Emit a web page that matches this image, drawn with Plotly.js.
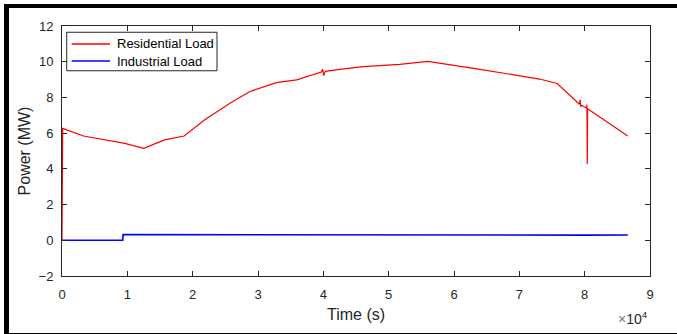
<!DOCTYPE html>
<html>
<head>
<meta charset="utf-8">
<script src="https://cdn.plot.ly/plotly-3.0.1.min.js"></script>
<style>
  html, body { margin: 0; padding: 0; background: #fff; }
  #wrap { position: relative; width: 677px; height: 334px; overflow: hidden; }
  #chart { position: absolute; left: 0; top: 0; width: 677px; height: 334px; }
  #frame { position: absolute; left: 4px; top: 4px; width: 668px; height: 325px;
           border-style: solid; border-color: #000; border-width: 4px 5px 5px 5px; pointer-events: none; }
</style>
</head>
<body>
<div id="wrap"><div id="chart"></div><div id="frame"></div></div>
<script>
// Residential load (time in seconds, power in MW)
const resTime = [0, 100, 3300, 9600, 12500, 15700, 18700, 21800, 25700, 28700, 32800, 35900,
  39700, 39900, 40050, 40300, 42500, 46100, 51700, 56000, 64000, 70500, 73100, 75800,
  79200, 79300, 79400, 79500, 80300, 80350, 80400, 80450, 86600];
const resPower = [0, 6.27, 5.84, 5.43, 5.15, 5.62, 5.84, 6.74, 7.67, 8.32, 8.83, 8.98,
  9.42, 9.58, 9.22, 9.46, 9.57, 9.72, 9.85, 10.02, 9.57, 9.2, 9.03, 8.78,
  7.62, 7.86, 7.48, 7.56, 7.4, 7.6, 4.27, 7.36, 5.84];

// Industrial load
const indTime = [0, 9300, 9350, 20000, 40000, 60000, 80000, 86600];
const indPower = [0, 0, 0.32, 0.31, 0.29, 0.28, 0.29, 0.30];

const seriesNames = ['Residential Load', 'Industrial Load'];
const seriesColors = ['#ff0000', '#0000ff'];
const xTickVals = [0, 10000, 20000, 30000, 40000, 50000, 60000, 70000, 80000, 90000];
const xTickText = ['0', '1', '2', '3', '4', '5', '6', '7', '8', '9'];
const yTickVals = [-2, 0, 2, 4, 6, 8, 10, 12];

const axisColor = '#262626';
const fontFam = 'Liberation Sans, Arial, sans-serif';

const traces = [
  { x: resTime, y: resPower, name: seriesNames[0], mode: 'lines',
    line: { color: seriesColors[0], width: 1.2 } },
  { x: indTime, y: indPower, name: seriesNames[1], mode: 'lines',
    line: { color: seriesColors[1], width: 1.6 } }
];

// legend box drawn in paper coordinates (MATLAB-style compact legend)
const legBox = { x0: 0.008, x1: 0.2636, y0: 0.821, y1: 0.975 };
const legRows = [0.928, 0.86];
const shapes = [
  { type: 'rect', xref: 'paper', yref: 'paper', x0: legBox.x0, x1: legBox.x1, y0: legBox.y0, y1: legBox.y1,
    line: { color: axisColor, width: 1 }, fillcolor: '#fff', layer: 'above' }
];
const annotations = [];
seriesNames.forEach((n, i) => {
  shapes.push({ type: 'line', xref: 'paper', yref: 'paper', x0: 0.0165, x1: 0.0816, y0: legRows[i], y1: legRows[i],
    line: { color: seriesColors[i], width: 1.6 }, layer: 'above' });
  annotations.push({ xref: 'paper', yref: 'paper', x: 0.0895, y: legRows[i], xanchor: 'left', yanchor: 'middle',
    text: n, showarrow: false, font: { family: fontFam, size: 13, color: '#000' } });
});
annotations.push({ xref: 'paper', yref: 'paper', x: 1.0, y: -0.125, xanchor: 'right', yanchor: 'top',
  text: '<span style="color:#777">×</span>10<sup>4</sup>', showarrow: false,
  font: { family: fontFam, size: 14, color: axisColor } });

const layout = {
  width: 677, height: 334,
  margin: { l: 62, r: 27, t: 26, b: 58 },
  paper_bgcolor: '#fff', plot_bgcolor: '#fff',
  font: { family: fontFam, size: 13, color: axisColor },
  showlegend: false,
  xaxis: {
    range: [0, 90000], tickvals: xTickVals, ticktext: xTickText,
    showgrid: false, zeroline: false, showline: true, linecolor: axisColor, linewidth: 1,
    mirror: 'ticks', ticks: 'inside', ticklen: 5, tickcolor: axisColor,
    ticklabelstandoff: 6, automargin: true,
    title: { text: 'Time (s)', font: { family: fontFam, size: 16, color: axisColor }, standoff: 8 }
  },
  yaxis: {
    range: [-2, 12], tickvals: yTickVals,
    showgrid: false, zeroline: false, showline: true, linecolor: axisColor, linewidth: 1,
    mirror: 'ticks', ticks: 'inside', ticklen: 5, tickcolor: axisColor,
    ticklabelstandoff: 5, automargin: true,
    title: { text: 'Power (MW)', font: { family: fontFam, size: 16, color: axisColor }, standoff: 3 }
  },
  shapes: shapes,
  annotations: annotations
};

Plotly.newPlot('chart', traces, layout, { staticPlot: true, displayModeBar: false });
</script>
</body>
</html>
